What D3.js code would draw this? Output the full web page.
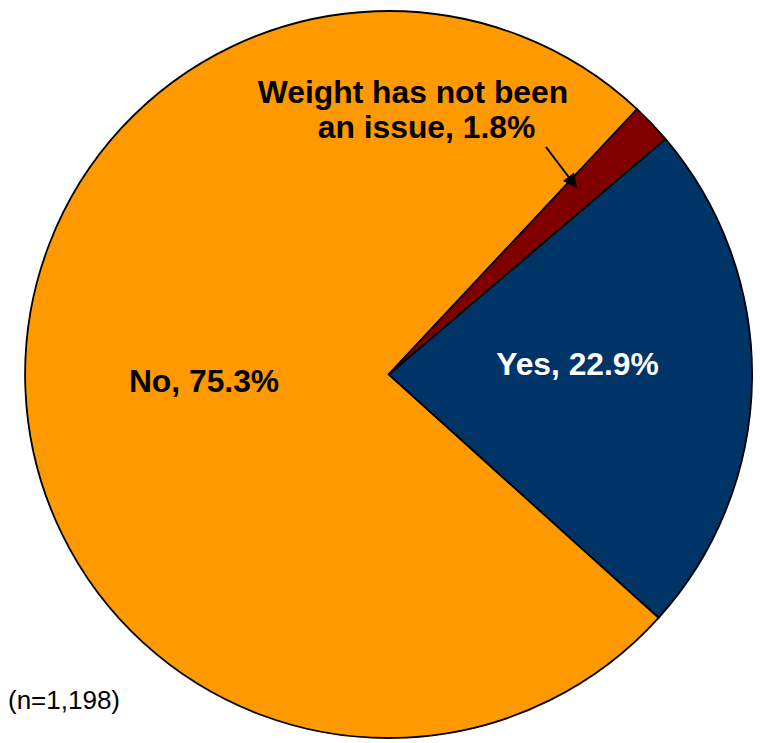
<!DOCTYPE html>
<html>
<head>
<meta charset="utf-8">
<script src="https://cdn.jsdelivr.net/npm/d3@7"></script>
<style>
  html, body { margin: 0; padding: 0; background: #fff; }
  svg { display: block; }
  text { font-family: "Liberation Sans", Arial, sans-serif; }
</style>
</head>
<body>
<svg id="chart" width="760" height="743"></svg>
<script>
// Data
const categories = ["Yes", "No", "Weight has not been an issue"];
const values = [22.9, 75.3, 1.8];
const colors = ["#003366", "#FF9900", "#800000"];
const sampleNote = "(n=1,198)";

const svg = d3.select("#chart");
const cx = 388.6, cy = 374.5, r = 363.5;

const pie = d3.pie().sort(null).value(d => d.value)
  .startAngle(49.6 * Math.PI / 180)
  .endAngle(49.6 * Math.PI / 180 + 2 * Math.PI);

const data = categories.map((c, i) => ({ cat: c, value: values[i], color: colors[i] }));
const arcs = pie(data);
const arc = d3.arc().innerRadius(0).outerRadius(r);

const g = svg.append("g").attr("transform", `translate(${cx},${cy})`);
g.selectAll("path.slice").data(arcs).enter().append("path")
  .attr("class", "slice")
  .attr("d", arc)
  .attr("fill", d => d.data.color)
  .attr("stroke", "#000")
  .attr("stroke-width", 1.8)
  .attr("stroke-linejoin", "miter");

// Labels
const fmt = v => v.toFixed(1) + "%";
svg.append("text")
  .attr("x", 577.5).attr("y", 375)
  .attr("text-anchor", "middle")
  .attr("font-size", 31.8).attr("font-weight", "bold")
  .attr("fill", "#fff")
  .text(`${categories[0]}, ${fmt(values[0])}`);

svg.append("text")
  .attr("x", 204).attr("y", 392)
  .attr("text-anchor", "middle")
  .attr("font-size", 31.8).attr("font-weight", "bold")
  .attr("fill", "#000")
  .text(`${categories[1]}, ${fmt(values[1])}`);

const wl = svg.append("text")
  .attr("font-size", 31.8).attr("font-weight", "bold")
  .attr("fill", "#000")
  .attr("text-anchor", "middle");
wl.append("tspan").attr("x", 413).attr("y", 103).text("Weight has not been");
wl.append("tspan").attr("x", 426.5).attr("y", 138).text(`an issue, ${fmt(values[2])}`);

// Arrow
const defs = svg.append("defs");
defs.append("marker")
  .attr("id", "arrowhead")
  .attr("viewBox", "0 0 10 10")
  .attr("refX", 10).attr("refY", 5)
  .attr("markerWidth", 8).attr("markerHeight", 7)
  .attr("markerUnits", "strokeWidth")
  .attr("orient", "auto")
  .append("path").attr("d", "M0,0 L10,5 L0,10 z").attr("fill", "#000");

svg.append("line")
  .attr("x1", 546).attr("y1", 147)
  .attr("x2", 577).attr("y2", 188)
  .attr("stroke", "#000").attr("stroke-width", 2)
  .attr("marker-end", "url(#arrowhead)");

svg.append("text")
  .attr("x", 8).attr("y", 709)
  .attr("font-size", 26)
  .attr("fill", "#000")
  .text(sampleNote);
</script>
</body>
</html>
